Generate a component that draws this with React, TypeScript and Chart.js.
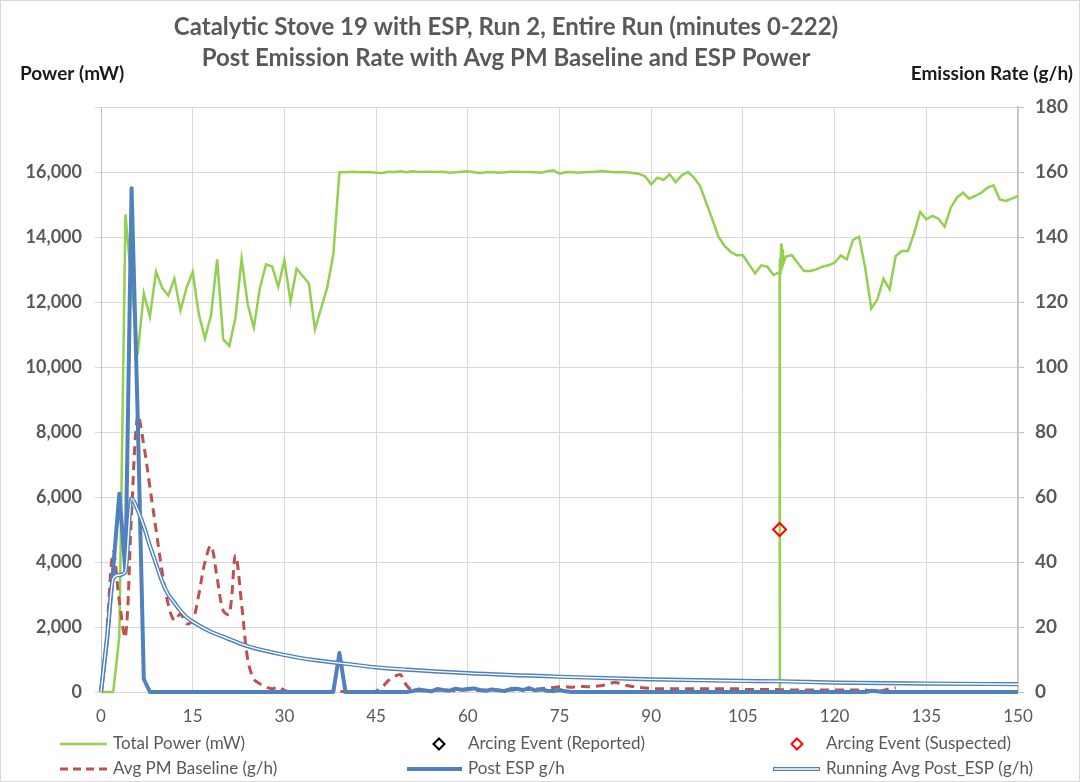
import { useEffect, useRef } from "react";
import { Chart, registerables } from "chart.js";

Chart.register(...registerables);

const FONT = "Lato, 'Open Sans', sans-serif";
const GRAY_TEXT = "#595959";

// ---- data (minutes on x) ----
const titleLines = [
  "Catalytic Stove 19 with ESP, Run 2, Entire Run (minutes 0-222)",
  "Post Emission Rate with Avg PM Baseline and ESP Power",
];
const leftAxisTitle = "Power (mW)";
const rightAxisTitle = "Emission Rate (g/h)";

const xTicks = { min: 0, max: 150, step: 15 };
const leftTicks = { min: 0, max: 18000, step: 2000 };
const rightTicks = { min: 0, max: 180, step: 20 };

// Total Power (mW), one value per minute 0..150
const totalPower = [
  0, 0, 0, 1700, 14700, 12560, 10390, 12270, 11550, 12930,
  12440, 12200, 12720, 11740, 12440, 12920, 11620, 10880, 11600, 13310,
  10850, 10650, 11520, 13330, 11930, 11210, 12440, 13160, 13090, 12470,
  13290, 12010, 13030, 12800, 12570, 11160, 11800, 12440, 13470, 15990,
  15990, 16010, 16000, 15990, 16000, 15980, 15970, 16010, 16000, 16020,
  15990, 16020, 16000, 16010, 16010, 16000, 16010, 15980, 15990, 16010,
  16020, 15990, 15970, 15990, 16000, 15980, 15990, 16010, 16010, 16000,
  16000, 15990, 15980, 16020, 16050, 15950, 15990, 16000, 15980, 15990,
  16000, 16010, 16030, 16010, 15990, 16000, 15990, 15970, 15940, 15870,
  15620, 15826, 15754, 15928, 15692, 15897, 16000, 15826, 15569, 15056,
  14544, 14010, 13723, 13538, 13436, 13436, 13159, 12882, 13128, 13087,
  12831, 12920, 13400, 13440, 13190, 12954, 12954, 13005, 13087, 13128,
  13210, 13436, 13313, 13908, 14010, 13056, 11795, 12082, 12718, 12390,
  13415, 13569, 13569, 14113, 14769, 14544, 14646, 14564, 14318, 14903,
  15210, 15364, 15179, 15262, 15364, 15518, 15590, 15159, 15108, 15179,
  15262,
];
// sub-minute power readings around the dropout near minute 111
const powerDropMinutes = [111.03, 111.06, 111.15, 111.25, 111.35, 111.45, 111.55];
const powerDropValues = [0, 13330, 12850, 13800, 13100, 13620, 13150];

// Avg PM Baseline (g/h), minutes 0..130
const avgPMBaseline = [
  null, 20, 43, 28, 17, 55, 85, 76, 63, 50,
  37, 27, 22, 24, 21, 22, 30, 40, 45, 35,
  25, 24, 42, 27, 10, 4, 2.5, 1.5, 1, 1.5,
  0.5, 0, 0, 0, 0, 0, 0, 0, 0.3, 0.3,
  0, 0, 0, 0, 0, 0.3, 1.5, 3.5, 4.8, 5.3,
  2, 0.5, 0.4, 0.3, 0.4, 0.5, 0.6, 0.5, 0.4, 0.6,
  0.7, 0.6, 0.5, 0.6, 0.7, 0.6, 0.5, 0.6, 0.7, 0.8,
  0.8, 0.9, 1.0, 1.2, 1.4, 1.6, 1.6, 1.5, 1.6, 1.7,
  1.6, 1.8, 2.0, 2.5, 2.9, 2.6, 2.0, 1.7, 1.4, 1.2,
  1.1, 1.0, 1.0, 1.0, 1.0, 1.0, 1.0, 1.0, 1.0, 1.0,
  1.0, 1.0, 1.0, 1.0, 1.0, 0.8, 0.8, 0.8, 0.8, 0.8,
  0.8, 0.7, 0.7, 0.6, 0.6, 0.6, 0.6, 0.6, 0.6, 0.6,
  0.6, 0.6, 0.6, 0.6, 0.6, 0.6, 0.4, 0.3, 0.5, 1.0,
  1.3,
];

// Post ESP (g/h), minutes 0..150
const postESP = [
  0, 16, 38, 61, 37, 155, 85, 4, 0, 0,
  0, 0, 0, 0, 0, 0, 0, 0, 0, 0,
  0, 0, 0, 0, 0, 0, 0, 0, 0, 0,
  0, 0, 0, 0, 0, 0, 0, 0, 0, 12,
  0, 0, 0, 0, 0, 0, 0, 0, 0, 0,
  0, 0.3, 0.8, 0.5, 0.2, 0.9, 0.6, 0.4, 1.0, 0.7,
  0.9, 1.1, 0.6, 0.4, 0.8, 0.5, 0.3, 0.9, 1.0, 0.6,
  1.2, 0.5, 0.8, 0.4, 0.3, 0.6, 0.2, 0, 0, 0,
  0, 0, 0, 0, 0, 0, 0, 0, 0, 0,
  0, 0, 0, 0, 0, 0, 0, 0, 0, 0,
  0, 0, 0, 0, 0, 0, 0, 0, 0, 0,
  0, 0, 0, 0, 0, 0, 0, 0, 0, 0,
  0, 0, 0, 0, 0, 0, 0.4, 0.2, 0, 0,
  0, 0, 0, 0, 0, 0, 0, 0, 0, 0,
  0, 0, 0, 0, 0, 0, 0, 0, 0, 0,
  0,
];

// Running Avg Post_ESP (g/h), read at these minutes
const runAvgMinutes = [0, 1, 2, 3, 4, 5, 6, 7, 8, 9, 10, 11, 12, 13, 14, 16, 18, 20, 24, 30, 35, 40, 45, 50, 60, 75, 90, 105, 111, 120, 135, 150];
const runAvgValues = [0, 17, 35, 36, 37, 59.5, 56, 51, 45, 39.5, 34, 30, 27.5, 25, 23, 20.5, 18.5, 17, 14.1, 11.4, 9.8, 8.7, 7.6, 6.9, 5.8, 4.7, 3.9, 3.4, 3.3, 2.9, 2.6, 2.4];

// Arcing events
const arcSuspectedMinutes = [111];
const arcSuspectedValues = [50];
const arcReportedMinutes: number[] = [];
const arcReportedValues: number[] = [];

const legendRows = [
  ["Total Power (mW)", "Arcing Event (Reported)", "Arcing Event (Suspected)"],
  ["Avg PM Baseline (g/h)", "Post ESP g/h", "Running Avg Post_ESP (g/h)"],
];

const GREEN = "#92D050";
const BLUE = "#4F81BD";
const RED = "#C0504D";
const ARC_RED = "#FF0000";

function pairs(xs: number[], ys: (number | null)[]) {
  return xs.map((x, i) => ({ x, y: ys[i] }));
}
function byMinute(ys: (number | null)[]) {
  return ys.map((y, i) => ({ x: i, y }));
}

function diamond(ctx: CanvasRenderingContext2D, x: number, y: number, r: number, color: string) {
  ctx.save();
  ctx.beginPath();
  ctx.moveTo(x, y - r);
  ctx.lineTo(x + r, y);
  ctx.lineTo(x, y + r);
  ctx.lineTo(x - r, y);
  ctx.closePath();
  ctx.lineWidth = 2;
  ctx.strokeStyle = color;
  ctx.stroke();
  ctx.restore();
}

const decorPlugin = {
  id: "excelDecor",
  afterDraw(chart: any) {
    const ctx: CanvasRenderingContext2D = chart.ctx;
    const W = chart.width;
    const H = chart.height;
    ctx.save();
    // outer border
    ctx.strokeStyle = "#D9D9D9";
    ctx.lineWidth = 1;
    ctx.strokeRect(0.5, 0.5, W - 1, H - 1);

    // title
    ctx.fillStyle = GRAY_TEXT;
    ctx.textAlign = "center";
    ctx.textBaseline = "middle";
    ctx.font = `bold 24px ${FONT}`;
    ctx.fillText(titleLines[0], 506, 27);
    ctx.fillText(titleLines[1], 506, 58);

    // axis titles
    ctx.fillStyle = "#1A1A1A";
    ctx.font = `bold 19px ${FONT}`;
    ctx.textAlign = "left";
    ctx.fillText(leftAxisTitle, 20, 74);
    ctx.textAlign = "right";
    ctx.fillText(rightAxisTitle, 1073, 74);

    // legend
    const colX = [[60, 107, 113], [407, 462, 468], [773, 820, 826]];
    const rowY = [744, 769];
    ctx.font = `17px ${FONT}`;
    ctx.textAlign = "left";
    legendRows.forEach((row, r) => {
      row.forEach((label, c) => {
        const [x0, x1, tx] = colX[c];
        const y = rowY[r];
        ctx.save();
        if (r === 0 && c === 0) {
          ctx.strokeStyle = GREEN; ctx.lineWidth = 2.5;
          ctx.beginPath(); ctx.moveTo(x0, y); ctx.lineTo(x1, y); ctx.stroke();
        } else if (r === 0 && c === 1) {
          diamond(ctx, tx - 29, y, 5.5, "#000000");
        } else if (r === 0 && c === 2) {
          diamond(ctx, tx - 29, y, 5.5, ARC_RED);
        } else if (r === 1 && c === 0) {
          ctx.strokeStyle = RED; ctx.lineWidth = 3; ctx.setLineDash([8, 5]);
          ctx.beginPath(); ctx.moveTo(x0, y); ctx.lineTo(x1, y); ctx.stroke();
        } else if (r === 1 && c === 1) {
          ctx.strokeStyle = BLUE; ctx.lineWidth = 4;
          ctx.beginPath(); ctx.moveTo(x0, y); ctx.lineTo(x1, y); ctx.stroke();
        } else {
          ctx.strokeStyle = BLUE; ctx.lineWidth = 4.2;
          ctx.beginPath(); ctx.moveTo(x0, y); ctx.lineTo(x1, y); ctx.stroke();
          ctx.strokeStyle = "#FFFFFF"; ctx.lineWidth = 1.4;
          ctx.beginPath(); ctx.moveTo(x0 + 1, y); ctx.lineTo(x1 - 1, y); ctx.stroke();
        }
        ctx.restore();
        ctx.fillStyle = GRAY_TEXT;
        ctx.fillText(label, tx, y);
      });
    });
    ctx.restore();
  },
};

export default function App() {
  const canvasRef = useRef<HTMLCanvasElement | null>(null);

  useEffect(() => {
    const canvas = canvasRef.current;
    if (!canvas) return;

    const powerData = byMinute(totalPower)
      .concat(pairs(powerDropMinutes, powerDropValues))
      .sort((a, b) => (a.x as number) - (b.x as number));

    const chart = new Chart(canvas, {
      type: "line",
      data: {
        datasets: [
          {
            label: "Arcing Event (Suspected)",
            data: pairs(arcSuspectedMinutes, arcSuspectedValues),
            yAxisID: "yR",
            showLine: false,
            pointStyle: "rectRot",
            pointRadius: 6.5,
            pointBorderWidth: 2,
            pointBorderColor: ARC_RED,
            pointBackgroundColor: "rgba(0,0,0,0)",
            borderColor: ARC_RED,
          },
          {
            label: "Arcing Event (Reported)",
            data: pairs(arcReportedMinutes, arcReportedValues),
            yAxisID: "yR",
            showLine: false,
            pointStyle: "rectRot",
            pointRadius: 6.5,
            pointBorderWidth: 2,
            pointBorderColor: "#000000",
            pointBackgroundColor: "rgba(0,0,0,0)",
            borderColor: "#000000",
          },
          {
            label: "Running Avg Post_ESP inner",
            data: pairs(runAvgMinutes, runAvgValues),
            yAxisID: "yR",
            borderColor: "#FFFFFF",
            borderWidth: 1.4,
            pointRadius: 0,
            cubicInterpolationMode: "monotone",
            clip: 6,
          },
          {
            label: "Running Avg Post_ESP (g/h)",
            data: pairs(runAvgMinutes, runAvgValues),
            yAxisID: "yR",
            borderColor: BLUE,
            borderWidth: 4.2,
            pointRadius: 0,
            cubicInterpolationMode: "monotone",
            clip: 6,
          },
          {
            label: "Post ESP g/h",
            data: byMinute(postESP),
            yAxisID: "yR",
            borderColor: BLUE,
            borderWidth: 4,
            pointRadius: 0,
            borderJoinStyle: "round",
            clip: 6,
          },
          {
            label: "Avg PM Baseline (g/h)",
            data: byMinute(avgPMBaseline),
            yAxisID: "yR",
            borderColor: RED,
            borderWidth: 3,
            borderDash: [9, 6],
            pointRadius: 0,
            tension: 0.35,
            clip: 6,
          },
          {
            label: "Total Power (mW)",
            data: powerData,
            yAxisID: "y",
            borderColor: GREEN,
            borderWidth: 2.5,
            pointRadius: 0,
            clip: 6,
          },
        ],
      },
      options: {
        animation: false,
        responsive: false,
        maintainAspectRatio: false,
        parsing: false as any,
        normalized: true,
        layout: { padding: { top: 107, left: 0, right: 0, bottom: 0 } },
        plugins: {
          legend: { display: false },
          title: { display: false },
          tooltip: { enabled: false },
        },
        scales: {
          x: {
            type: "linear",
            min: xTicks.min,
            max: xTicks.max,
            ticks: {
              stepSize: xTicks.step,
              color: GRAY_TEXT,
              font: { family: FONT, size: 17 },
              padding: 14,
              maxRotation: 0,
            },
            grid: { color: "#D9D9D9", lineWidth: 1, drawTicks: false },
            border: { display: false },
            afterFit(scale: any) {
              scale.height = 90;
            },
          },
          y: {
            type: "linear",
            position: "left",
            min: leftTicks.min,
            max: leftTicks.max,
            ticks: {
              stepSize: leftTicks.step,
              color: GRAY_TEXT,
              font: { family: FONT, size: 18, weight: "bold" },
              padding: 13,
              callback: (v: any) => (Number(v) === leftTicks.max ? "" : Number(v).toLocaleString("en-US")),
            },
            grid: { color: "#D9D9D9", lineWidth: 1, tickLength: 6 },
            border: { color: "#BFBFBF", width: 1 },
            afterFit(scale: any) {
              scale.width = 101;
            },
          },
          yR: {
            type: "linear",
            position: "right",
            min: rightTicks.min,
            max: rightTicks.max,
            ticks: {
              stepSize: rightTicks.step,
              color: GRAY_TEXT,
              font: { family: FONT, size: 19, weight: "bold" },
              padding: 11,
            },
            grid: { drawOnChartArea: false, color: "#BFBFBF", tickLength: 6 },
            border: { color: "#BFBFBF", width: 1.5 },
            afterFit(scale: any) {
              scale.width = 62;
            },
          },
        },
      } as any,
      plugins: [decorPlugin],
    });

    return () => chart.destroy();
  }, []);

  return (
    <div style={{ position: "fixed", left: 0, top: 0, width: 1080, height: 782, background: "#FFFFFF" }}>
      <canvas ref={canvasRef} width={1080} height={782} style={{ width: 1080, height: 782, display: "block" }} />
    </div>
  );
}
